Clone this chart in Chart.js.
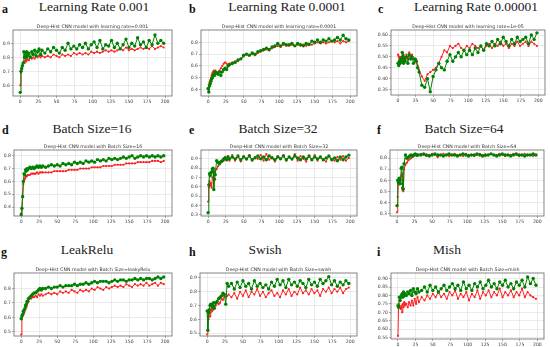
<!DOCTYPE html>
<html>
<head>
<meta charset="utf-8">
<script src="https://cdn.jsdelivr.net/npm/chart.js"></script>
<style>
  body { margin: 0; width: 550px; height: 347px; position: relative; overflow: hidden; background: #fff; }
  canvas { position: absolute; }
  .ttl { position: absolute; font-family: "Liberation Serif", serif; font-weight: 400; font-size: 13.5px; line-height: 14px; white-space: nowrap; transform: translateX(-50%); color: #222; }
  .lt { position: absolute; font-family: "Liberation Serif", serif; font-weight: bold; font-size: 12px; line-height: 12px; color: #111; }
</style>
</head>
<body>
<script>
// epochs sampled from the curves (dense at the start, every 4 epochs later)
const epochs = [0, 1, 2, 3, 4, 5, 6, 7, 8, 9, 10, 12, 14, 16, 18, 20, 22, 24, 26, 28, 30,
  34, 38, 42, 46, 50, 54, 58, 62, 66, 70, 74, 78, 82, 86, 90, 94, 98, 102, 106, 110,
  114, 118, 122, 126, 130, 134, 138, 142, 146, 150, 154, 158, 162, 166, 170, 174, 178, 182, 186, 190, 194, 198];
const xTicks = [0, 25, 50, 75, 100, 125, 150, 175, 200];

// a - learning rate 0.001
const lr001Green = [0.55, 0.70, 0.72, 0.74, 0.76, 0.84, 0.80, 0.83, 0.80, 0.84, 0.81,
  0.83, 0.80, 0.84, 0.82, 0.85, 0.81, 0.84, 0.86, 0.82, 0.85,
  0.83, 0.86, 0.84, 0.87, 0.85, 0.83, 0.87, 0.85, 0.90, 0.86,
  0.88, 0.86, 0.89, 0.87, 0.90, 0.86, 0.89, 0.91, 0.87, 0.92,
  0.86, 0.89, 0.88, 0.92, 0.87, 0.90, 0.86, 0.89, 0.93, 0.87,
  0.90, 0.88, 0.94, 0.89, 0.91, 0.87, 0.92, 0.89, 0.96, 0.90, 0.92, 0.90];
const lr001Red = [0.60, 0.69, 0.70, 0.74, 0.76, 0.77, 0.76, 0.78, 0.77, 0.78, 0.79,
  0.78, 0.80, 0.79, 0.80, 0.79, 0.81, 0.80, 0.81, 0.80, 0.81,
  0.80, 0.81, 0.80, 0.82, 0.81, 0.80, 0.82, 0.81, 0.82, 0.81,
  0.83, 0.82, 0.83, 0.82, 0.83, 0.82, 0.84, 0.83, 0.84, 0.83,
  0.84, 0.85, 0.84, 0.85, 0.84, 0.85, 0.86, 0.85, 0.87, 0.85,
  0.86, 0.85, 0.86, 0.87, 0.86, 0.87, 0.86, 0.88, 0.86, 0.87, 0.88, 0.87];

// b - learning rate 0.0001
const lr0001Green = [0.41, 0.38, 0.43, 0.45, 0.47, 0.49, 0.50, 0.52, 0.53, 0.52, 0.55,
  0.54, 0.53, 0.55, 0.52, 0.55, 0.57, 0.58, 0.57, 0.60, 0.61,
  0.62, 0.63, 0.65, 0.66, 0.69, 0.70, 0.69, 0.71, 0.70, 0.72,
  0.73, 0.74, 0.75, 0.74, 0.76, 0.77, 0.79, 0.77, 0.79, 0.78,
  0.78, 0.79, 0.77, 0.79, 0.78, 0.77, 0.79, 0.78, 0.81, 0.80,
  0.82, 0.80, 0.82, 0.81, 0.83, 0.81, 0.82, 0.84, 0.82, 0.86, 0.83, 0.82];
const lr0001Red = [0.40, 0.44, 0.46, 0.48, 0.50, 0.52, 0.54, 0.55, 0.56, 0.54, 0.56,
  0.55, 0.54, 0.56, 0.58, 0.60, 0.62, 0.63, 0.62, 0.61, 0.62,
  0.63, 0.64, 0.64, 0.66, 0.68, 0.70, 0.69, 0.70, 0.69, 0.71,
  0.72, 0.73, 0.74, 0.73, 0.75, 0.76, 0.77, 0.76, 0.78, 0.77,
  0.77, 0.78, 0.77, 0.78, 0.77, 0.78, 0.77, 0.79, 0.78, 0.79,
  0.80, 0.79, 0.80, 0.79, 0.80, 0.81, 0.80, 0.81, 0.79, 0.81, 0.80, 0.81];

// c - learning rate 1e-05
const lr00001Green = [0.47, 0.46, 0.48, 0.47, 0.49, 0.48, 0.52, 0.50, 0.47, 0.49, 0.48,
  0.50, 0.47, 0.51, 0.49, 0.50, 0.47, 0.49, 0.48, 0.45, 0.43,
  0.37, 0.36, 0.40, 0.34, 0.41, 0.44, 0.47, 0.45, 0.44, 0.48,
  0.51, 0.48, 0.50, 0.52, 0.50, 0.53, 0.51, 0.53, 0.51, 0.54,
  0.52, 0.55, 0.53, 0.56, 0.55, 0.57, 0.55, 0.58, 0.56, 0.59,
  0.57, 0.55, 0.58, 0.56, 0.59, 0.57, 0.58, 0.59, 0.56, 0.60, 0.58, 0.61];
const lr00001Red = [0.51, 0.50, 0.49, 0.50, 0.48, 0.49, 0.50, 0.49, 0.51, 0.50, 0.48,
  0.51, 0.49, 0.52, 0.50, 0.51, 0.49, 0.48, 0.49, 0.46, 0.44,
  0.41, 0.39, 0.42, 0.43, 0.44, 0.45, 0.47, 0.50, 0.53, 0.52,
  0.55, 0.54, 0.55, 0.56, 0.54, 0.53, 0.55, 0.54, 0.56, 0.55,
  0.54, 0.55, 0.53, 0.55, 0.56, 0.54, 0.56, 0.55, 0.57, 0.55,
  0.56, 0.54, 0.56, 0.55, 0.57, 0.55, 0.56, 0.57, 0.55, 0.57, 0.56, 0.55];

// d - batch size 16
const bs16Green = [0.34, 0.39, 0.48, 0.60, 0.66, 0.65, 0.69, 0.68, 0.70, 0.69, 0.70,
  0.71, 0.70, 0.71, 0.70, 0.71, 0.72, 0.71, 0.72, 0.71, 0.72,
  0.71, 0.72, 0.73, 0.72, 0.73, 0.72, 0.74, 0.73, 0.74, 0.73,
  0.75, 0.74, 0.75, 0.74, 0.76, 0.75, 0.76, 0.75, 0.77, 0.76,
  0.77, 0.76, 0.78, 0.77, 0.78, 0.77, 0.78, 0.79, 0.78, 0.79,
  0.80, 0.78, 0.79, 0.80, 0.79, 0.80, 0.79, 0.80, 0.79, 0.80, 0.79, 0.80];
const bs16Red = [0.35, 0.38, 0.49, 0.58, 0.61, 0.62, 0.63, 0.64, 0.64, 0.65, 0.65,
  0.65, 0.66, 0.66, 0.66, 0.66, 0.67, 0.66, 0.67, 0.67, 0.67,
  0.67, 0.67, 0.67, 0.68, 0.68, 0.68, 0.68, 0.68, 0.69, 0.69,
  0.69, 0.69, 0.70, 0.70, 0.70, 0.70, 0.71, 0.71, 0.71, 0.71,
  0.72, 0.72, 0.72, 0.72, 0.73, 0.73, 0.73, 0.73, 0.74, 0.74,
  0.74, 0.74, 0.75, 0.75, 0.75, 0.75, 0.75, 0.76, 0.76, 0.76, 0.75, 0.76];

// e - batch size 32
const bs32Green = [0.32, 0.62, 0.74, 0.72, 0.75, 0.76, 0.79, 0.80, 0.57, 0.68, 0.73,
  0.88, 0.86, 0.85, 0.87, 0.88, 0.90, 0.91, 0.89, 0.92, 0.90,
  0.92, 0.90, 0.93, 0.89, 0.92, 0.90, 0.93, 0.89, 0.91, 0.93,
  0.90, 0.92, 0.89, 0.93, 0.91, 0.89, 0.92, 0.90, 0.93, 0.89,
  0.92, 0.90, 0.93, 0.91, 0.89, 0.92, 0.90, 0.93, 0.89, 0.92,
  0.90, 0.92, 0.89, 0.91, 0.93, 0.89, 0.91, 0.88, 0.92, 0.89, 0.92, 0.94];
const bs32Red = [0.44, 0.59, 0.66, 0.61, 0.64, 0.59, 0.70, 0.69, 0.72, 0.75, 0.77,
  0.79, 0.82, 0.84, 0.86, 0.87, 0.88, 0.92, 0.89, 0.93, 0.88,
  0.94, 0.88, 0.92, 0.87, 0.93, 0.89, 0.94, 0.88, 0.92, 0.90,
  0.94, 0.88, 0.95, 0.89, 0.92, 0.87, 0.93, 0.90, 0.94, 0.88,
  0.92, 0.89, 0.95, 0.88, 0.93, 0.90, 0.87, 0.93, 0.89, 0.94,
  0.88, 0.92, 0.89, 0.87, 0.93, 0.90, 0.88, 0.92, 0.89, 0.93, 0.88, 0.91];

// f - batch size 64
const bs64Green = [0.37, 0.60, 0.58, 0.62, 0.60, 0.57, 0.71, 0.72, 0.53, 0.52, 0.75,
  0.83, 0.80, 0.81, 0.82, 0.83, 0.82, 0.83, 0.84, 0.83, 0.83,
  0.83, 0.84, 0.83, 0.82, 0.83, 0.84, 0.83, 0.83, 0.82, 0.83,
  0.84, 0.83, 0.83, 0.82, 0.83, 0.84, 0.83, 0.82, 0.83, 0.83,
  0.84, 0.83, 0.82, 0.83, 0.83, 0.84, 0.83, 0.82, 0.83, 0.84,
  0.83, 0.83, 0.82, 0.83, 0.84, 0.83, 0.83, 0.82, 0.83, 0.83, 0.84, 0.83];
const bs64Red = [0.31, 0.45, 0.58, 0.56, 0.62, 0.60, 0.64, 0.66, 0.51, 0.50, 0.70,
  0.74, 0.76, 0.78, 0.79, 0.80, 0.81, 0.82, 0.83, 0.82, 0.83,
  0.84, 0.83, 0.82, 0.83, 0.84, 0.83, 0.81, 0.83, 0.84, 0.83,
  0.82, 0.83, 0.84, 0.83, 0.83, 0.82, 0.84, 0.83, 0.83, 0.82,
  0.83, 0.84, 0.83, 0.82, 0.83, 0.84, 0.83, 0.83, 0.84, 0.83,
  0.82, 0.83, 0.83, 0.84, 0.83, 0.82, 0.83, 0.84, 0.83, 0.83, 0.82, 0.83];

// g - leakyRelu
const leakyGreen = [0.59, 0.61, 0.62, 0.64, 0.65, 0.66, 0.68, 0.69, 0.71, 0.71, 0.73,
  0.74, 0.75, 0.76, 0.77, 0.77, 0.78, 0.79, 0.80, 0.79, 0.80,
  0.80, 0.81, 0.80, 0.81, 0.81, 0.82, 0.81, 0.82, 0.82, 0.82,
  0.83, 0.82, 0.83, 0.83, 0.84, 0.83, 0.84, 0.85, 0.84, 0.85,
  0.85, 0.85, 0.84, 0.85, 0.86, 0.85, 0.86, 0.86, 0.85, 0.86,
  0.86, 0.87, 0.86, 0.87, 0.86, 0.87, 0.87, 0.86, 0.87, 0.88, 0.87, 0.88];
const leakyRed = [0.48, 0.60, 0.61, 0.62, 0.63, 0.65, 0.66, 0.67, 0.69, 0.70, 0.71,
  0.73, 0.73, 0.74, 0.74, 0.75, 0.74, 0.76, 0.75, 0.76, 0.75,
  0.76, 0.77, 0.76, 0.77, 0.76, 0.78, 0.77, 0.78, 0.77, 0.79,
  0.78, 0.77, 0.79, 0.78, 0.79, 0.78, 0.80, 0.79, 0.81, 0.80,
  0.79, 0.81, 0.80, 0.81, 0.82, 0.81, 0.82, 0.81, 0.83, 0.82,
  0.81, 0.83, 0.82, 0.83, 0.82, 0.84, 0.82, 0.83, 0.84, 0.82, 0.84, 0.83];

// h - swish
const swishGreen = [0.66, 0.52, 0.65, 0.67, 0.70, 0.71, 0.70, 0.71, 0.69, 0.72, 0.68,
  0.72, 0.73, 0.75, 0.76, 0.77, 0.79, 0.78, 0.71, 0.86, 0.84,
  0.86, 0.82, 0.87, 0.83, 0.88, 0.84, 0.86, 0.82, 0.88, 0.84,
  0.86, 0.83, 0.85, 0.82, 0.87, 0.84, 0.89, 0.85, 0.88, 0.83,
  0.89, 0.85, 0.87, 0.84, 0.88, 0.86, 0.83, 0.89, 0.85, 0.87,
  0.84, 0.89, 0.86, 0.88, 0.91, 0.85, 0.88, 0.84, 0.87, 0.85, 0.88, 0.86];
const swishRed = [0.49, 0.62, 0.60, 0.66, 0.62, 0.65, 0.68, 0.66, 0.67, 0.70, 0.69,
  0.70, 0.72, 0.71, 0.72, 0.75, 0.74, 0.77, 0.76, 0.77, 0.78,
  0.76, 0.79, 0.75, 0.80, 0.77, 0.81, 0.76, 0.80, 0.78, 0.82,
  0.77, 0.80, 0.76, 0.79, 0.81, 0.77, 0.79, 0.76, 0.81, 0.78,
  0.82, 0.77, 0.80, 0.78, 0.83, 0.79, 0.81, 0.78, 0.82, 0.79,
  0.81, 0.77, 0.82, 0.80, 0.83, 0.79, 0.82, 0.80, 0.83, 0.79, 0.82, 0.83];

// i - mish
const mishGreen = [0.74, 0.73, 0.79, 0.77, 0.79, 0.80, 0.81, 0.79, 0.82, 0.80, 0.81,
  0.80, 0.82, 0.81, 0.83, 0.80, 0.84, 0.82, 0.81, 0.84, 0.82,
  0.83, 0.85, 0.82, 0.86, 0.83, 0.85, 0.82, 0.84, 0.86, 0.83,
  0.85, 0.87, 0.84, 0.86, 0.83, 0.88, 0.84, 0.86, 0.83, 0.87,
  0.85, 0.88, 0.84, 0.86, 0.89, 0.85, 0.87, 0.84, 0.88, 0.86,
  0.89, 0.85, 0.87, 0.84, 0.88, 0.86, 0.89, 0.85, 0.91, 0.87, 0.90, 0.86];
const mishRed = [0.56, 0.75, 0.74, 0.73, 0.72, 0.74, 0.70, 0.75, 0.73, 0.76, 0.74,
  0.75, 0.73, 0.76, 0.74, 0.77, 0.74, 0.78, 0.75, 0.79, 0.76,
  0.79, 0.77, 0.80, 0.78, 0.81, 0.79, 0.82, 0.79, 0.81, 0.78,
  0.82, 0.80, 0.83, 0.78, 0.81, 0.79, 0.82, 0.77, 0.81, 0.79,
  0.83, 0.78, 0.82, 0.80, 0.83, 0.79, 0.82, 0.80, 0.84, 0.79,
  0.82, 0.80, 0.83, 0.79, 0.82, 0.80, 0.84, 0.79, 0.82, 0.80, 0.79, 0.78];

// y tick labels for every panel
const ticksA = [0.6, 0.7, 0.8, 0.9];
const ticksB = [0.4, 0.5, 0.6, 0.7, 0.8];
const ticksC = [0.35, 0.40, 0.45, 0.50, 0.55, 0.60];
const ticksD = [0.4, 0.5, 0.6, 0.7, 0.8];
const ticksE = [0.3, 0.4, 0.5, 0.6, 0.7, 0.8, 0.9];
const ticksF = [0.3, 0.4, 0.5, 0.6, 0.7, 0.8];
const ticksG = [0.5, 0.6, 0.7, 0.8];
const ticksH = [0.5, 0.6, 0.7, 0.8, 0.9];
const ticksI = [0.55, 0.60, 0.65, 0.70, 0.75, 0.80, 0.85, 0.90];

const panels = [
  { letter: 'a', title: 'Learning Rate 0.001', sub: 'Deep-Hist CNN model with learning rate=0.001',
    green: lr001Green, red: lr001Red, yMin: 0.524, yMax: 0.995, yTicks: ticksA, dec: 1,
    box: [13, 30, 172, 96], tx: 94, ty: 12, lx: 2, ly: 3 },
  { letter: 'b', title: 'Learning Rate 0.0001', sub: 'Deep-Hist CNN model with learning rate=0.0001',
    green: lr0001Green, red: lr0001Red, yMin: 0.346, yMax: 0.904, yTicks: ticksB, dec: 1,
    box: [201, 30, 357, 96], tx: 287, ty: 12, lx: 189, ly: 3 },
  { letter: 'c', title: 'Learning Rate 0.00001', sub: 'Deep-Hist CNN model with learning rate=1e-05',
    green: lr00001Green, red: lr00001Red, yMin: 0.325, yMax: 0.623, yTicks: ticksC, dec: 2,
    box: [391, 30, 545, 95], tx: 476, ty: 12, lx: 378, ly: 3 },
  { letter: 'd', title: 'Batch Size=16', sub: 'Deep-Hist CNN model with Batch Size=16',
    green: bs16Green, red: bs16Red, yMin: 0.33, yMax: 0.845, yTicks: ticksD, dec: 1,
    box: [14, 150, 172, 216], tx: 92, ty: 134, lx: 2, ly: 124 },
  { letter: 'e', title: 'Batch Size=32', sub: 'Deep-Hist CNN model with Batch Size=32',
    green: bs32Green, red: bs32Red, yMin: 0.285, yMax: 0.995, yTicks: ticksE, dec: 1,
    box: [201, 150, 357, 216], tx: 278, ty: 134, lx: 189, ly: 124 },
  { letter: 'f', title: 'Batch Size=64', sub: 'Deep-Hist CNN model with Batch Size=64',
    green: bs64Green, red: bs64Red, yMin: 0.276, yMax: 0.875, yTicks: ticksF, dec: 1,
    box: [390, 150, 544, 216], tx: 464, ty: 134, lx: 377, ly: 124 },
  { letter: 'g', title: 'LeakRelu', sub: 'Deep-Hist CNN model with Batch Size=leakyRelu',
    green: leakyGreen, red: leakyRed, yMin: 0.47, yMax: 0.908, yTicks: ticksG, dec: 1,
    box: [14, 273, 172, 336], tx: 87, ty: 255, lx: 1, ly: 246 },
  { letter: 'h', title: 'Swish', sub: 'Deep-Hist CNN model with Batch Size=swish',
    green: swishGreen, red: swishRed, yMin: 0.479, yMax: 0.936, yTicks: ticksH, dec: 1,
    box: [200, 273, 357, 336], tx: 265, ty: 255, lx: 189, ly: 246 },
  { letter: 'i', title: 'Mish', sub: 'Deep-Hist CNN model with Batch Size=mish',
    green: mishGreen, red: mishRed, yMin: 0.542, yMax: 0.933, yTicks: ticksI, dec: 2,
    box: [391, 273, 544, 339], tx: 447, ty: 255, lx: 377, ly: 246 }
];

// spaces around the plot frame inside each canvas
const YW = 18, PT = 8, PR = 6, XH = 9;
const tickFont = { family: 'DejaVu Sans', size: 4.6 };

// frame round the plot area + the small matplotlib-like title
const framePlugin = {
  id: 'frame',
  afterDraw(chart, args, opts) {
    const { ctx, chartArea: a } = chart;
    ctx.save();
    ctx.strokeStyle = '#666';
    ctx.lineWidth = 0.8;
    ctx.strokeRect(a.left, a.top, a.right - a.left, a.bottom - a.top);
    ctx.fillStyle = '#333';
    ctx.font = '4.7px "DejaVu Sans"';
    ctx.textAlign = 'center';
    ctx.textBaseline = 'bottom';
    ctx.fillText(opts.text, (a.left + a.right) / 2, a.top - 1.2);
    ctx.restore();
  }
};

function toPoints(vals) {
  return epochs.map((e, i) => ({ x: e, y: vals[i] }));
}

panels.forEach(p => {
  const [l, t, r, b] = p.box;
  const cv = document.createElement('canvas');
  cv.width = r - l + YW + PR;
  cv.height = b - t + PT + XH;
  cv.style.left = (l - YW) + 'px';
  cv.style.top = (t - PT) + 'px';
  document.body.appendChild(cv);

  const ttl = document.createElement('div');
  ttl.className = 'ttl';
  ttl.textContent = p.title;
  ttl.style.left = p.tx + 'px';
  ttl.style.top = (p.ty - 12) + 'px';
  document.body.appendChild(ttl);

  const lt = document.createElement('div');
  lt.className = 'lt';
  lt.textContent = p.letter;
  lt.style.left = p.lx + 'px';
  lt.style.top = p.ly + 'px';
  document.body.appendChild(lt);

  new Chart(cv, {
    type: 'line',
    data: {
      datasets: [{
        data: toPoints(p.green),
        borderColor: '#008000',
        backgroundColor: '#008000',
        borderWidth: 1,
        pointRadius: 1.7,
        pointBorderWidth: 0,
        tension: 0
      }, {
        data: toPoints(p.red),
        borderColor: '#ff2020',
        backgroundColor: '#ff2020',
        borderWidth: 1,
        pointRadius: 1.1,
        pointBorderWidth: 0,
        tension: 0
      }]
    },
    options: {
      responsive: false,
      animation: false,
      devicePixelRatio: 1,
      layout: { padding: { left: 0, top: PT, right: PR, bottom: 0 } },
      plugins: {
        legend: { display: false },
        tooltip: { enabled: false },
        frame: { text: p.sub }
      },
      scales: {
        x: {
          type: 'linear',
          min: -10,
          max: 209.5,
          afterBuildTicks: s => { s.ticks = xTicks.map(v => ({ value: v })); },
          afterFit: s => { s.height = XH; },
          ticks: { font: tickFont, color: '#444', padding: 1, autoSkip: false, maxRotation: 0 },
          grid: { color: '#e2e2e2', lineWidth: 0.7, tickLength: 2, tickColor: '#777', tickWidth: 0.6 },
          border: { display: false }
        },
        y: {
          min: p.yMin,
          max: p.yMax,
          afterBuildTicks: s => { s.ticks = p.yTicks.map(v => ({ value: v })); },
          afterFit: s => { s.width = YW; },
          ticks: { font: tickFont, color: '#444', padding: 1, autoSkip: false,
            callback: v => v.toFixed(p.dec) },
          grid: { color: '#e2e2e2', lineWidth: 0.7, tickLength: 2, tickColor: '#777', tickWidth: 0.6 },
          border: { display: false }
        }
      }
    },
    plugins: [framePlugin]
  });
});
</script>
</body>
</html>
